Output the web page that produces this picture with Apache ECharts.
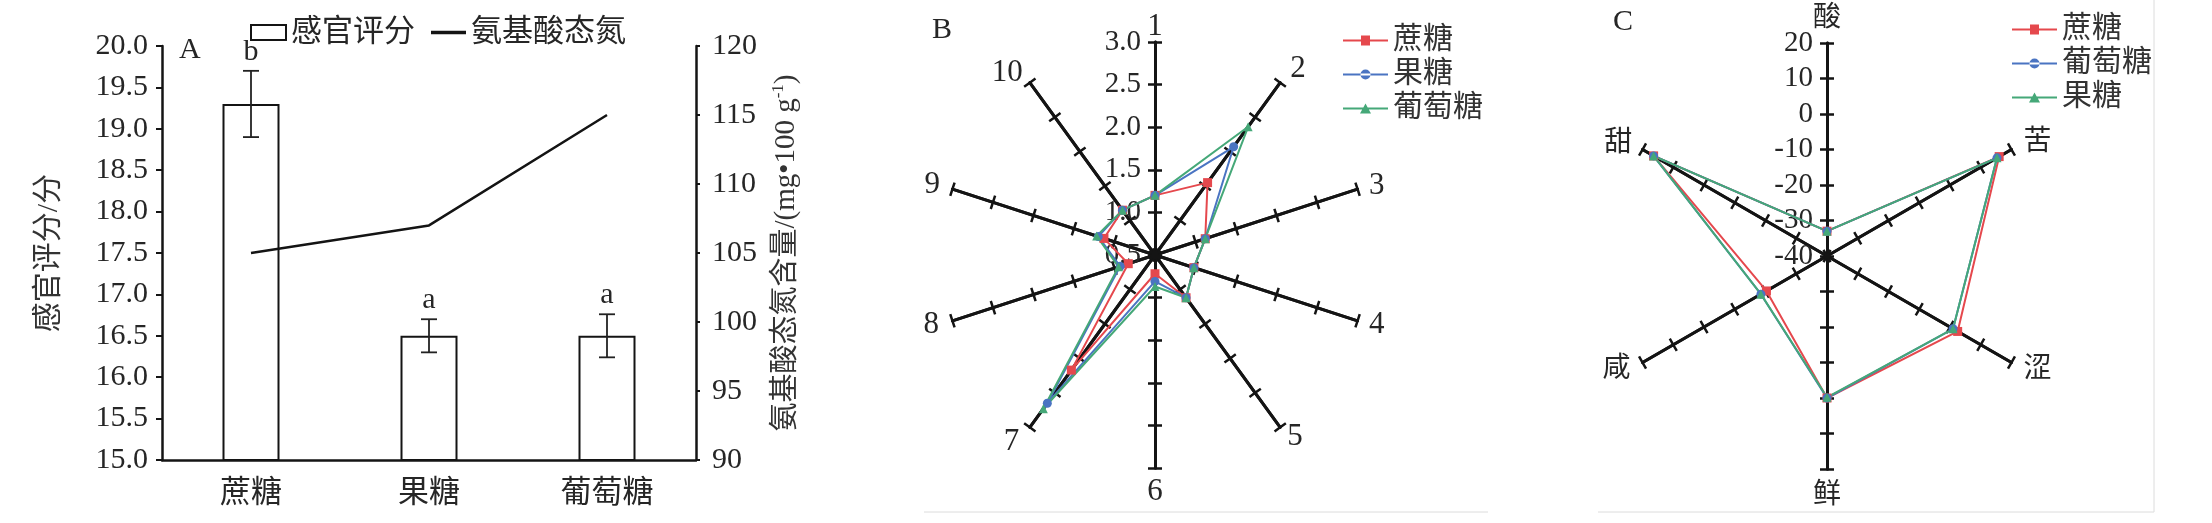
<!DOCTYPE html>
<html><head><meta charset="utf-8">
<script src="https://cdn.jsdelivr.net/npm/echarts@6/dist/echarts.min.js"></script>
<style>
html,body{margin:0;padding:0;background:#fff;}
#a,#b,#c{position:absolute;top:0;height:523px;}
#a{left:0;width:880px;}
#b{left:880px;width:680px;}
#c{left:1560px;width:652px;}
</style></head><body>
<div id="a"></div><div id="b"></div><div id="c"></div>
<script>
// ---------- Panel A data ----------
const categoriesA = ['蔗糖', '果糖', '葡萄糖'];
const sensoryScore = [19.3, 16.5, 16.5];
const sensoryError = [0.4, 0.2, 0.26];
const significance = ['b', 'a', 'a'];
const aminoNitrogen = [105, 107, 115];

// ---------- Panel B data ----------
const attributesB = ['1', '2', '3', '4', '5', '6', '7', '8', '9', '10'];
const sucroseB  = [1.2, 1.55, 1.12, 0.98, 1.12, 0.72, 2.17, 0.83, 1.13, 1.15];
const fructoseB = [1.2, 2.07, 1.12, 0.98, 1.12, 0.81, 2.65, 0.93, 1.20, 1.15];
const glucoseB  = [1.2, 2.36, 1.12, 0.98, 1.12, 0.87, 2.73, 0.95, 1.22, 1.15];

// ---------- Panel C data ----------
const tastesC = ['酸', '苦', '涩', '鲜', '咸', '甜'];
const sucroseC  = [-33, 16.0, 2.5, 0.0, -20.3, 16.4];
const glucoseC  = [-33, 15.3, 1.0, 0.0, -18.5, 16.4];
const fructoseC = [-33, 15.3, 1.0, -0.2, -18.5, 16.4];

const FONT = "'Liberation Serif', 'Noto Sans CJK SC', serif";
const INK = '#141414';
const TXT = '#262626';
const RED = '#e5484d', BLUE = '#4a74c2', GREEN = '#45a878';

// legend icons: line + marker (45 x 10 box)
const ICON_RECT = 'path://M0,4 H45 V6 H0 Z M18,0 H27 V10 H18 Z';
const ICON_CIRC = 'path://M0,4 H45 V6 H0 Z M17.5,5 A5,5 0 1,0 27.5,5 A5,5 0 1,0 17.5,5 Z';
const ICON_TRI  = 'path://M0,4 H45 V6 H0 Z M22.5,0 L28,10 L17,10 Z';
const ICON_LINE = 'path://M0,0 H30 V3 H0 Z';

// ECharts radar lays indicators counter-clockwise; reorder so they run clockwise
const ccw = arr => [arr[0]].concat(arr.slice(1).reverse());

// ================= Chart A =================
const chartA = echarts.init(document.getElementById('a'));
chartA.setOption({
  animation: false,
  textStyle: {fontFamily: FONT, color: TXT},
  title: {text: 'A', left: 174, top: 30, textStyle: {fontFamily: FONT, fontSize: 30, fontWeight: 'normal', color: TXT}},
  legend: {
    left: 245, top: 12, itemWidth: 35, itemHeight: 15, itemGap: 16,
    textStyle: {fontFamily: FONT, fontSize: 31, color: TXT},
    data: [{name: '感官评分', icon: 'rect'}, {name: '氨基酸态氮', icon: ICON_LINE}]
  },
  grid: {left: 162, right: 880 - 696, top: 46, bottom: 523 - 460},
  xAxis: {
    type: 'category', data: categoriesA,
    axisLine: {lineStyle: {color: INK, width: 2.5}},
    axisTick: {show: false},
    axisLabel: {fontFamily: FONT, fontSize: 31, margin: 18, color: TXT}
  },
  yAxis: [{
    type: 'value', min: 15, max: 20, interval: 0.5,
    name: '感官评分/分', nameLocation: 'middle', nameGap: 98,
    nameTextStyle: {fontFamily: FONT, fontSize: 30, color: '#333'},
    axisLine: {show: true, lineStyle: {color: INK, width: 2.5}},
    axisTick: {show: true, length: 6, lineStyle: {color: INK, width: 2}},
    axisLabel: {fontFamily: FONT, fontSize: 30, margin: 14, color: TXT, formatter: v => v.toFixed(1)},
    splitLine: {show: false}
  }, {
    type: 'value', min: 90, max: 120, interval: 5, position: 'right',
    name: '氨基酸态氮含量/(mg•100 g{sup|-1})', nameLocation: 'middle', nameGap: 74,
    nameTextStyle: {fontFamily: FONT, fontSize: 29, color: '#333', lineHeight: 32,
      rich: {sup: {fontFamily: FONT, fontSize: 17, color: '#333', verticalAlign: 'top', lineHeight: 32}}},
    axisLine: {show: true, lineStyle: {color: INK, width: 2.5}},
    axisTick: {show: true, length: 4, lineStyle: {color: INK, width: 2}},
    axisLabel: {fontFamily: FONT, fontSize: 30, margin: 16, color: TXT},
    splitLine: {show: false}
  }],
  series: [{
    name: '感官评分', type: 'bar', data: sensoryScore, barWidth: 57,
    itemStyle: {color: '#ffffff', borderColor: INK, borderWidth: 2}, z: 2
  }, {
    type: 'custom', z: 4,
    data: sensoryScore.map((v, i) => [i, v, sensoryError[i]]),
    renderItem: (params, api) => {
      const i = api.value(0), m = api.value(1), e = api.value(2);
      const hi = api.coord([i, m + e]), lo = api.coord([i, m - e]);
      const cap = 8, st = {stroke: '#222', lineWidth: 1.8};
      return {type: 'group', children: [
        {type: 'line', shape: {x1: hi[0], y1: hi[1], x2: lo[0], y2: lo[1]}, style: st},
        {type: 'line', shape: {x1: hi[0] - cap, y1: hi[1], x2: hi[0] + cap, y2: hi[1]}, style: st},
        {type: 'line', shape: {x1: lo[0] - cap, y1: lo[1], x2: lo[0] + cap, y2: lo[1]}, style: st},
        {type: 'text', x: hi[0], y: hi[1] - 4, style: {text: significance[params.dataIndex], font: "30px 'Liberation Serif'", fill: TXT, align: 'center', verticalAlign: 'bottom'}}
      ]};
    }
  }, {
    name: '氨基酸态氮', type: 'line', yAxisIndex: 1, data: aminoNitrogen,
    symbol: 'none', color: INK, lineStyle: {color: INK, width: 2.5}, z: 5
  }]
});

// ================= radar helper =================
// main radar: axes, names, ticks on one side, labels on the first axis
// twin radar: identical geometry, ticks with negative length so they land on the other side
function radarPair(center, radius, names, min, max, splitNumber, gaps, nameStyle, labelFmt) {
  const main = names.map((n, i) => ({name: n, min: min, max: max, nameGap: gaps[i], nameMoveOverlap: false, axisLabel: {show: i === 0}}));
  const twin = names.map(n => ({name: n, min: min, max: max}));
  const common = {center: center, radius: radius, splitNumber: splitNumber, shape: 'polygon', startAngle: 90,
    splitLine: {show: false}, splitArea: {show: false}};
  return [
    Object.assign({}, common, {
      indicator: ccw(main),
      axisName: Object.assign({show: true, color: TXT, fontFamily: FONT}, nameStyle),
      axisLine: {show: true, lineStyle: {color: INK, width: 3}},
      axisTick: {show: true, length: 7, lineStyle: {color: INK, width: 2.5}},
      axisLabel: {show: false, fontFamily: FONT, fontSize: 29, color: TXT, margin: 14, formatter: labelFmt}
    }),
    Object.assign({}, common, {
      indicator: ccw(twin),
      axisName: {show: false},
      axisLine: {show: true, lineStyle: {color: INK, width: 3}},
      axisTick: {show: true, length: -7, lineStyle: {color: INK, width: 2.5}},
      axisLabel: {show: false}
    })
  ];
}
function radarSeries(name, values, color, symbol) {
  return {type: 'radar', radarIndex: 0, name: name, symbol: symbol, symbolSize: 9, color: color,
    lineStyle: {color: color, width: 2}, itemStyle: {color: color}, z: 5,
    data: [{name: name, value: ccw(values)}]};
}
const legendBase = (left, top, items) => ({
  orient: 'vertical', left: left, top: top, itemWidth: 45, itemHeight: 10, itemGap: 3,
  itemStyle: {borderWidth: 0},
  textStyle: {fontFamily: FONT, fontSize: 30, color: '#333', lineHeight: 31},
  data: items
});

// ================= Chart B =================
const chartB = echarts.init(document.getElementById('b'));
chartB.setOption({
  animation: false,
  title: {text: 'B', left: 47, top: 10, textStyle: {fontFamily: FONT, fontSize: 30, fontWeight: 'normal', color: TXT}},
  legend: legendBase(458, 20, [{name: '蔗糖', icon: ICON_RECT}, {name: '果糖', icon: ICON_CIRC}, {name: '葡萄糖', icon: ICON_TRI}]),
  radar: radarPair([275, 255], 213, attributesB, 0.5, 3.0, 5,
    [0, 17, 12, 12, 12, 8, 18, 14, 13, 12], {fontSize: 31}, v => v.toFixed(1)),
  graphic: [{type: 'line', shape: {x1: 44, y1: 512, x2: 608, y2: 512}, style: {stroke: '#dcdcdc', lineWidth: 1}}],
  series: [
    radarSeries('蔗糖', sucroseB, RED, 'rect'),
    radarSeries('果糖', fructoseB, BLUE, 'circle'),
    radarSeries('葡萄糖', glucoseB, GREEN, 'triangle')
  ]
});

// ================= Chart C =================
const chartC = echarts.init(document.getElementById('c'));
chartC.setOption({
  animation: false,
  title: {text: 'C', left: 48, top: 2, textStyle: {fontFamily: FONT, fontSize: 30, fontWeight: 'normal', color: TXT}},
  legend: legendBase(447, 9, [{name: '蔗糖', icon: ICON_RECT}, {name: '葡萄糖', icon: ICON_CIRC}, {name: '果糖', icon: ICON_TRI}]),
  radar: radarPair([267, 256], 213, tastesC, -40, 20, 6,
    [10, 14, 14, 13, 14, 12], {fontSize: 28}, v => String(v)),
  graphic: [
    {type: 'line', shape: {x1: 594, y1: 0, x2: 594, y2: 512}, style: {stroke: '#dcdcdc', lineWidth: 1}},
    {type: 'line', shape: {x1: 38, y1: 512, x2: 594, y2: 512}, style: {stroke: '#dcdcdc', lineWidth: 1}}
  ],
  series: [
    radarSeries('蔗糖', sucroseC, RED, 'rect'),
    radarSeries('葡萄糖', glucoseC, BLUE, 'circle'),
    radarSeries('果糖', fructoseC, GREEN, 'triangle')
  ]
});
</script>
</body></html>
